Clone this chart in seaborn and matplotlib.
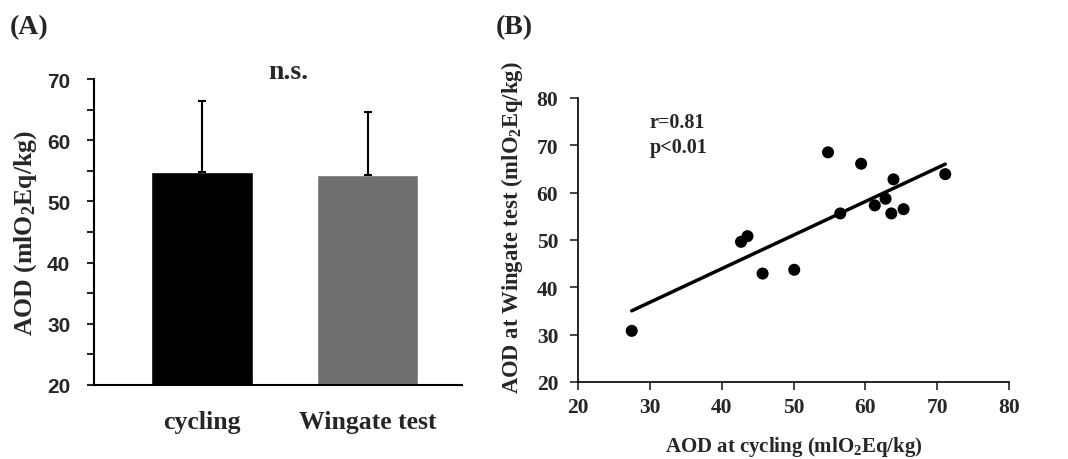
import numpy as np
import pandas as pd
import matplotlib
matplotlib.use('Agg')
import matplotlib.pyplot as plt
import seaborn as sns

# Panel A: mean AOD with SD
conditions = ['cycling', 'Wingate test']
aod_mean = [54.8, 54.3]
aod_sd = [11.6, 10.3]
bar_colors = ['#000000', '#707070']

# Panel B: individual AOD values
aod_cycling = [27.5, 42.7, 43.6, 45.7, 50.1, 54.8, 56.5, 59.4, 61.3, 62.8, 63.6, 63.9, 65.3, 71.1]
aod_wingate = [30.8, 49.6, 50.8, 42.9, 43.7, 68.5, 55.6, 66.1, 57.3, 58.7, 55.6, 62.8, 56.5, 63.9]

sns.set_style('white')
plt.rcParams['font.family'] = ['Liberation Serif', 'DejaVu Serif']
plt.rcParams['mathtext.fontset'] = 'custom'
plt.rcParams['mathtext.rm'] = 'Liberation Serif:bold'
plt.rcParams['mathtext.it'] = 'Liberation Serif:bold'
plt.rcParams['mathtext.bf'] = 'Liberation Serif:bold'

fig = plt.figure(figsize=(10.68, 4.6), dpi=100)
axA = fig.add_axes([0.088, 0.161, 0.3446, 0.665])
axB = fig.add_axes([0.541, 0.1674, 0.404, 0.6176])

# ---- Panel A ----
df_a = pd.DataFrame({'cond': conditions, 'aod': aod_mean})
sns.barplot(data=df_a, x='cond', y='aod', hue='cond', palette=bar_colors,
            width=0.616, legend=False, ax=axA, saturation=1)
axA.errorbar(range(len(conditions)), aod_mean, yerr=[[0] * len(aod_sd), aod_sd],
             fmt='none', ecolor='black', elinewidth=1.5, capsize=3, capthick=1.5)
axA.set_ylim(20, 70)
axA.set_xlim(-0.653, 1.571)
axA.set_yticks(range(20, 71, 10))
axA.set_yticks(range(25, 70, 10), minor=True)
axA.tick_params(axis='y', which='both', direction='out', length=5, width=1.5, left=True, pad=12)
axA.tick_params(axis='x', length=0, pad=18)
for lab in axA.get_yticklabels():
    lab.set_fontfamily('Liberation Sans')
    lab.set_fontweight('bold')
    lab.set_fontsize(15)
for lab in axA.get_xticklabels():
    lab.set_fontweight('bold')
    lab.set_fontsize(18.5)
axA.set_xlabel('')
axA.set_ylabel(r'AOD (mlO$_2$Eq/kg)', fontsize=18.5, fontweight='bold', labelpad=6)
sns.despine(ax=axA)
for s in ['left', 'bottom']:
    axA.spines[s].set_linewidth(1.5)
    axA.spines[s].set_color('black')
axA.text(0.52, 71.2, 'n.s.', ha='center', va='center', fontsize=20, fontweight='bold')

# ---- Panel B ----
sns.regplot(x=aod_cycling, y=aod_wingate, ci=None, ax=axB,
            scatter_kws=dict(s=75, color='black', alpha=1, edgecolors='none'),
            line_kws=dict(color='black', lw=2.5))
axB.set_xlim(20, 80)
axB.set_ylim(20, 80)
axB.set_xticks(range(20, 81, 10))
axB.set_yticks(range(20, 81, 10))
axB.tick_params(axis='both', direction='out', length=6, width=1.2, left=True, bottom=True,
                labelsize=15.5)
axB.tick_params(axis='y', pad=8)
axB.tick_params(axis='x', pad=5)
for lab in axB.get_xticklabels() + axB.get_yticklabels():
    lab.set_fontweight('bold')
axB.set_xlabel(r'AOD at cycling (mlO$_2$Eq/kg)', fontsize=15, fontweight='bold', labelpad=12)
axB.set_ylabel(r'AOD at Wingate test (mlO$_2$Eq/kg)', fontsize=16.3, fontweight='bold')
axB.yaxis.set_label_coords(-0.122, 0.546)
sns.despine(ax=axB)
for s in ['left', 'bottom']:
    axB.spines[s].set_linewidth(1.2)
    axB.spines[s].set_color('black')
axB.text(30, 75, 'r=0.81', fontsize=14.5, fontweight='bold', va='center')
axB.text(30, 69.7, 'p<0.01', fontsize=14.5, fontweight='bold', va='center')

fig.text(0.009, 0.94, '(A)', fontsize=20, fontweight='bold', va='center')
fig.text(0.464, 0.94, '(B)', fontsize=20, fontweight='bold', va='center')

fig.savefig('out.png', dpi=100)
